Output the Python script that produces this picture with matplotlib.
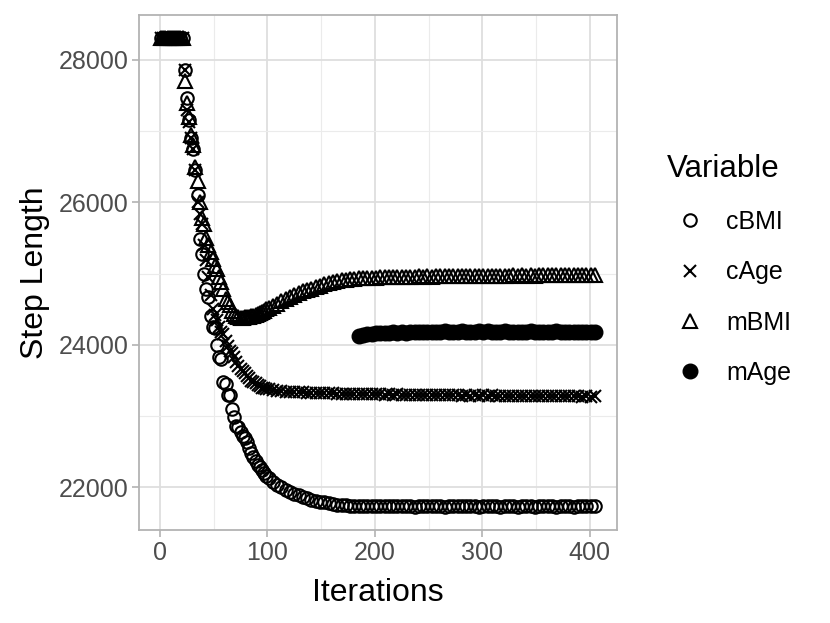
import numpy as np
import matplotlib.pyplot as plt

plt.rcParams['font.family'] = ['Liberation Sans', 'DejaVu Sans']

# iteration numbers: every 2nd early on, every 4th later
iters_early = np.arange(1, 100, 2)
iters_late = np.arange(101, 406, 4)
iters_mage = np.arange(185, 406, 4)

start = [28300] * 11

cbmi = start + [27860, 27470, 27150, 26900, 26750, 26450, 26100, 25490, 25280, 25000,
                24790, 24670, 24400, 24250, 24230, 24000, 23830, 23800, 23481, 23450,
                23300, 23290, 23100, 22990, 22860, 22850, 22780, 22720, 22690, 22640,
                22560, 22480, 22420, 22370, 22320, 22290, 22240, 22200, 22160] + \
       [22130, 22080, 22030, 22000, 21960, 21930, 21910, 21890, 21870, 21850,
        21830, 21815, 21800, 21790, 21780, 21770, 21760, 21755, 21750, 21745, 21740,
        21740, 21735, 21745, 21738, 21742, 21736, 21740, 21733, 21744, 21739,
        21735, 21741, 21737, 21732, 21743, 21738, 21734, 21740, 21736, 21742,
        21731, 21738, 21744, 21735, 21739, 21733, 21741, 21737, 21730, 21736,
        21742, 21734, 21739, 21731, 21737, 21743, 21735, 21732, 21738, 21740,
        21734, 21729, 21737, 21741, 21733, 21738, 21730, 21736, 21742, 21735,
        21731, 21737, 21733, 21739, 21734, 21736]

cage = start + [27860, 27300, 27125, 26900, 26753, 26450, 26000, 25840, 25700, 25400,
                25187, 24950, 24700, 24500, 24420, 24350, 24250, 24180, 24150, 24050,
                23980, 23920, 23880, 23830, 23760, 23700, 23660, 23640, 23600, 23560,
                23530, 23500, 23480, 23460, 23440, 23420, 23400, 23390, 23380] + \
       [23375, 23365, 23355, 23350, 23345, 23340, 23338, 23335, 23333, 23330,
        23328, 23326, 23324, 23322, 23320, 23318, 23316, 23314, 23312, 23311, 23310,
        23308, 23311, 23305, 23309, 23304, 23307, 23302, 23306, 23300, 23304,
        23299, 23303, 23297, 23301, 23296, 23300, 23294, 23298, 23293, 23297,
        23292, 23296, 23290, 23295, 23289, 23293, 23288, 23292, 23287, 23291,
        23286, 23290, 23285, 23289, 23284, 23288, 23283, 23287, 23282, 23286,
        23281, 23285, 23280, 23284, 23279, 23283, 23278, 23282, 23277, 23281,
        23276, 23280, 23275, 23279, 23274, 23277]

mbmi = start + [27700, 27400, 27200, 26940, 26800, 26500, 26300, 26000, 25775, 25700,
                25500, 25400, 25300, 25200, 25100, 25060, 24950, 24880, 24780, 24650,
                24600, 24560, 24480, 24430, 24400, 24390, 24380, 24380, 24385, 24390,
                24395, 24400, 24410, 24420, 24430, 24445, 24460, 24480, 24500] + \
       [24520, 24550, 24580, 24610, 24640, 24670, 24700, 24725, 24750, 24770,
        24790, 24810, 24830, 24848, 24865, 24880, 24895, 24905, 24915, 24922, 24928,
        24932, 24936, 24939, 24942, 24945, 24947, 24950, 24948, 24952, 24954,
        24951, 24956, 24958, 24955, 24960, 24957, 24962, 24959, 24963, 24961,
        24965, 24962, 24966, 24964, 24968, 24965, 24969, 24966, 24970, 24967,
        24971, 24968, 24972, 24969, 24973, 24970, 24974, 24971, 24975, 24972,
        24976, 24973, 24977, 24974, 24978, 24975, 24979, 24976, 24980, 24977,
        24981, 24978, 24982, 24979, 24981, 24980]

mage = [24120, 24135, 24148, 24155, 24162, 24168, 24172, 24166, 24175, 24170,
        24178, 24172, 24180, 24174, 24182, 24176, 24185, 24178, 24183, 24176,
        24188, 24180, 24186, 24178, 24190, 24182, 24187, 24179, 24192, 24184,
        24188, 24180, 24186, 24178, 24190, 24183, 24187, 24179, 24185, 24177,
        24189, 24181, 24186, 24178, 24184, 24176, 24188, 24180, 24185, 24177,
        24183, 24178, 24186, 24180, 24184, 24182]

iters = np.concatenate([iters_early, iters_late])

fig = plt.figure(figsize=(8.3, 6.23), dpi=100)
ax = fig.add_axes([0.168, 0.149, 0.575, 0.827])

ms = 9
ax.plot(iters, cbmi, ls='none', marker='o', mfc='none', mec='black', mew=1.5, ms=ms, label='cBMI')
ax.plot(iters, cage, ls='none', marker='x', color='black', mew=1.5, ms=ms - 0.5, label='cAge')
ax.plot(iters, mbmi, ls='none', marker='^', mfc='none', mec='black', mew=1.5, ms=ms + 1, label='mBMI')
ax.plot(iters_mage, mage, ls='none', marker='o', color='black', ms=ms + 1.5, label='mAge')

# ggplot style 5% expansion
xmin, xmax = iters.min(), iters.max()
allv = np.concatenate([cbmi, cage, mbmi, mage])
ymin, ymax = allv.min(), allv.max()
ax.set_xlim(xmin - 0.05 * (xmax - xmin), xmax + 0.05 * (xmax - xmin))
ax.set_ylim(ymin - 0.05 * (ymax - ymin), ymax + 0.05 * (ymax - ymin))

ax.set_xticks([0, 100, 200, 300, 400])
ax.set_xticks([50, 150, 250, 350], minor=True)
ax.set_yticks([22000, 24000, 26000, 28000])
ax.set_yticks([23000, 25000, 27000], minor=True)
ax.grid(which='major', color='#DEDEDE', lw=1.3)
ax.grid(which='minor', color='#EBEBEB', lw=0.8)
ax.set_axisbelow(True)
for s in ax.spines.values():
    s.set_color('#B3B3B3')
    s.set_linewidth(1.3)
ax.tick_params(which='major', length=5, width=1.2, color='#B3B3B3', labelsize=18,
               labelcolor='#4D4D4D', pad=3)
ax.tick_params(which='minor', length=0)

ax.set_xlabel('Iterations', fontsize=23, labelpad=9)
ax.set_ylabel('Step Length', fontsize=23, labelpad=6)

leg = ax.legend(loc='upper left', bbox_to_anchor=(1.085, 0.75), frameon=False,
                title='Variable', title_fontsize=22.5, fontsize=18,
                labelspacing=1.05, handletextpad=0.55, handlelength=1.8,
                borderaxespad=0)
leg._legend_box.align = 'left'

fig.savefig('out.png', dpi=100)
